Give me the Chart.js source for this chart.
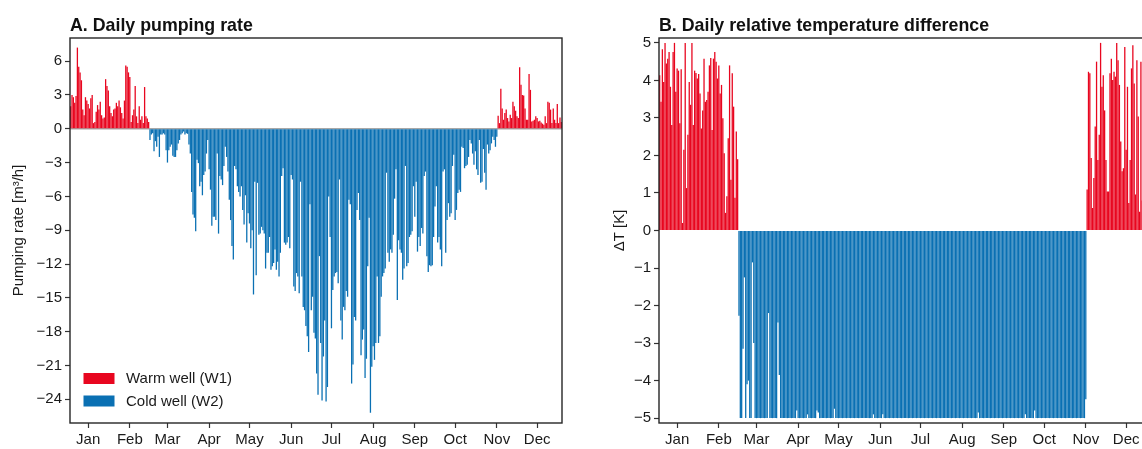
<!DOCTYPE html>
<html>
<head>
<meta charset="utf-8">
<script src="https://cdn.jsdelivr.net/npm/chart.js@4.4.0/dist/chart.umd.min.js"></script>
<style>
  html, body { margin: 0; padding: 0; background: #fff; overflow: hidden; }
  body { width: 1142px; height: 449px; position: relative; }
  #wrapA { position: absolute; left: 0; top: 0; width: 570px; height: 449px; }
  #wrapB { position: absolute; left: 570px; top: 0; width: 590px; height: 449px; }
</style>
</head>
<body>
<div id="wrapA"><canvas id="chartA" width="570" height="449"></canvas></div>
<div id="wrapB"><canvas id="chartB" width="590" height="449"></canvas></div>
<script>
// days shown on the x axis: 19 Dec .. 19 Dec (366 days)
const startDate = [2018, 11, 19];
const nDays = 366;
const monthNames = ['Jan','Feb','Mar','Apr','May','Jun','Jul','Aug','Sep','Oct','Nov','Dec'];

// A. pumping rate [m3/h]
const warmA1 = [2.0, 3.0, 2.8, 2.3, 2.9, 7.2, 5.5, 5.0, 4.3, 1.7,
  1.2, 2.8, 2.5, 2.2, 1.8, 2.7, 3.0, 0.5, 0.6, 1.5,
  2.1, 1.7, 2.4, 1.2, 0.9, 1.0, 4.4, 3.8, 3.4, 2.0,
  1.4, 1.1, 1.7, 1.8, 2.3, 2.0, 2.5, 1.9, 1.4, 0.9,
  2.5, 5.6, 5.5, 5.0, 4.6, 0.6, 1.2, 1.7, 3.8, 1.1,
  0.5, 2.0, 0.8, 1.1, 0.5, 3.7, 1.1, 0.9, 0.6];
const coldA = [-1.0, -0.5, -0.4, -2.0, -1.1, -1.6, -0.7, -2.5, -0.5, -0.5,
  -0.4, -0.5, -1.9, -3.0, -1.9, -1.6, -1.4, -2.4, -2.5, -2.5,
  -1.9, -1.3, -1.0, -0.5, -0.4, -0.25, -0.5, -0.4, -0.45, -1.4,
  -2.2, -5.6, -7.6, -7.9, -9.1, -2.75, -3.05, -5.1, -4.7, -5.9,
  -4.1, -3.8, -2.2, -1.0, -3.6, -5.4, -8.6, -7.8, -7.8, -8.1,
  -2.2, -9.3, -4.2, -4.5, -5.0, -3.3, -1.6, -2.5, -3.8, -6.3,
  -8.1, -10.4, -11.6, -3.3, -3.6, -5.1, -5.6, -6.0, -5.1, -7.2,
  -8.5, -5.9, -10.1, -7.5, -8.4, -10.6, -9.0, -14.7, -4.7, -13.0,
  -4.8, -9.4, -9.3, -8.7, -9.0, -9.3, -12.4, -11.0, -11.0, -9.6,
  -12.5, -12.2, -11.9, -10.7, -12.5, -11.8, -13.1, -11.0, -4.2, -3.5,
  -10.1, -10.3, -10.1, -9.6, -10.6, -4.1, -4.5, -14.0, -14.4, -12.8,
  -13.1, -14.6, -4.7, -13.1, -15.8, -16.1, -17.5, -18.4, -19.8, -6.7,
  -16.1, -14.9, -18.1, -18.6, -21.7, -23.6, -11.3, -19.0, -24.1, -20.2,
  -17.0, -24.2, -22.9, -6.0, -9.6, -17.7, -14.3, -13.1, -12.8, -12.7,
  -13.7, -4.5, -17.0, -18.7, -15.8, -16.1, -14.4, -14.9, -6.3, -6.7,
  -22.6, -20.9, -16.7, -17.0, -7.2, -5.7, -8.1, -20.1, -18.7, -17.8,
  -22.1, -20.4, -12.2, -7.9, -25.2, -21.1, -19.3, -20.5, -19.0, -13.1,
  -19.0, -18.4, -14.9, -13.1, -12.8, -12.4, -3.9, -11.0, -11.8, -10.7,
  -11.0, -9.4, -6.2, -3.6, -15.2, -9.9, -10.7, -11.0, -13.4, -12.4,
  -3.3, -12.2, -11.9, -9.6, -9.4, -9.1, -5.1, -7.8, -4.7, -10.9,
  -9.6, -10.4, -8.8, -9.3, -4.2, -3.8, -11.3, -12.7, -12.1, -12.2,
  -12.1, -9.6, -6.9, -5.1, -10.1, -9.6, -10.7, -12.2, -3.8, -3.6,
  -11.0, -8.1, -6.6, -7.8, -7.5, -3.3, -2.3, -8.1, -7.2, -5.7,
  -5.4, -5.6, -1.6, -1.7, -3.5, -3.3, -3.2, -2.5, -1.0, -1.3,
  -2.2, -3.2, -2.0, -3.6, -4.1, -1.0, -4.8, -4.7, -1.8, -3.9,
  -5.4, -1.4, -2.2, -1.9, -1.3, -0.7, -1.0, -1.6, -0.7];
const warmA2 = [1.15, 0.5, 3.55, 1.8, 0.8, 1.4, 1.7, 0.95, 0.65, 1.25,
  0.95, 2.4, 2.0, 1.6, 1.1, 0.95, 5.45, 3.9, 3.0, 2.95,
  1.8, 0.8, 0.8, 4.85, 3.45, 0.65, 0.7, 0.8, 1.1, 0.95,
  0.65, 0.7, 0.55, 0.45, 0.35, 1.1, 0.5, 2.4, 2.3, 1.7,
  0.5, 1.8, 0.8, 0.5, 2.2, 0.5, 1.0, 0.6];
const yTicksA = [6, 3, 0, -3, -6, -9, -12, -15, -18, -21, -24];

// B. relative temperature difference [K]
const warmB1 = [4.14, 3.43, 4.83, 3.96, 5.0, 4.45, 4.58, 4.76, 3.83, 2.81,
  4.76, 5.0, 3.70, 4.32, 4.26, 2.86, 4.3, 0.2, 2.15, 5.0,
  1.13, 2.55, 3.96, 3.35, 5.0, 2.81, 4.26, 4.2, 4.05, 4.17,
  3.65, 2.72, 3.2, 4.58, 3.43, 3.48, 3.7, 4.4, 4.6, 2.68,
  4.58, 4.76, 4.5, 4.05, 4.4, 3.65, 3.88, 2.99, 2.06, 0.47,
  0.91, 2.46, 4.4, 1.35, 4.19, 3.3, 0.87, 2.64, 1.9];
const coldB = [-2.27, -5, -5, -3.15, -1.25, -5, -4.1, -4.0, -5, -5, -0.85, -3.0, -5, -5, -5, -5, -5, -5, -5, -5,
  -5, -5, -2.2, -5, -5, -5, -5, -5, -5, -2.45, -3.85, -5, -5, -5, -5, -5, -5, -5, -5, -5,
  -5, -5, -5, -4.8, -5, -5, -5, -5, -5, -5, -5, -4.9, -5, -5, -5, -5, -5, -5, -4.8, -4.85,
  -5, -5, -5, -5, -5, -5, -5, -5, -5, -5, -5, -4.75, -5, -5, -5, -5, -5, -5, -5, -5,
  -5, -5, -5, -5, -5, -5, -5, -5, -5, -5, -5, -5, -5, -5, -5, -5, -5, -5, -5, -5,
  -4.9, -5, -5, -5, -5, -5, -5, -4.9, -5, -5, -5, -5, -5, -5, -5, -5, -5, -5, -5, -5,
  -5, -5, -5, -5, -5, -5, -5, -5, -5, -5, -5, -5, -5, -5, -5, -5, -5, -5, -5, -5,
  -5, -5, -5, -5, -5, -5, -5, -5, -5, -5, -5, -5, -5, -5, -5, -5, -5, -5, -5, -5,
  -5, -5, -5, -5, -5, -5, -5, -5, -5, -5, -5, -5, -5, -5, -5, -5, -5, -5, -4.85, -5,
  -5, -5, -5, -5, -5, -5, -5, -5, -5, -5, -5, -5, -5, -5, -5, -5, -5, -5, -5, -5,
  -5, -5, -5, -5, -5, -5, -5, -5, -5, -5, -5, -5, -5, -4.9, -5, -5, -5, -5, -5, -5,
  -4.8, -5, -5, -5, -5, -5, -5, -5, -5, -5, -5, -5, -5, -5, -5, -5, -5, -5, -5, -5,
  -5, -5, -5, -5, -5, -5, -5, -5, -5, -5, -5, -5, -5, -5, -5, -5, -5, -5, -4.5];
const warmB2 = [1.09, 4.23, 4.19, 1.93, 0.6, 1.4, 2.77, 4.5, 1.88, 2.55,
  5.0, 3.83, 4.14, 3.2, 1.88, 1.04, 1.04, 4.19, 4.58, 4.01,
  4.23, 4.1, 5.0, 4.54, 3.88, 2.37, 1.58, 1.66, 4.89, 2.15,
  3.83, 0.73, 1.88, 4.32, 4.94, 3.92, 0.96, 4.54, 3.04, 0.5,
  4.5, 0.8, 3.6, 4.8, 2.2, 4.1, 1.5, 3.9];
const yTicksB = [5, 4, 3, 2, 1, 0, -1, -2, -3, -4, -5];

const RED = '#e8061f';
const BLUE = '#0a70b3';
const FONT = '"Liberation Sans", Arial, Helvetica, sans-serif';
Chart.defaults.font.family = FONT;
Chart.defaults.color = '#1a1a1a';

const days = [];
for (let i = 0; i < nDays; i++) {
  days.push(new Date(Date.UTC(startDate[0], startDate[1], startDate[2] + i)));
}
const labels = days.map(d => d.toISOString().slice(0, 10));

function split(first, middle, last) {
  const warm = first.concat(middle.map(() => null), last);
  const cold = first.map(() => null).concat(middle, last.map(() => null));
  return { warm, cold };
}

function fmt(v) {
  return v < 0 ? '\u2212' + Math.abs(v) : String(v);
}

function panelPlugin(title, zeroLine, legend) {
  return {
    id: 'panel',
    beforeDatasetsDraw(chart) {
      if (!zeroLine) return;
      const a = chart.chartArea, y0 = chart.scales.y.getPixelForValue(0);
      const c = chart.ctx;
      c.save();
      c.strokeStyle = '#a8a8a8';
      c.lineWidth = 1.5;
      c.beginPath(); c.moveTo(a.left, y0); c.lineTo(a.right, y0); c.stroke();
      c.restore();
    },
    afterDraw(chart) {
      const a = chart.chartArea, c = chart.ctx;
      c.save();
      c.strokeStyle = '#262626';
      c.lineWidth = 1.4;
      c.strokeRect(a.left, a.top, a.right - a.left, a.bottom - a.top);
      c.fillStyle = '#111';
      c.font = 'bold 17.8px ' + FONT;
      c.textBaseline = 'alphabetic';
      c.fillText(title, a.left, 31);
      if (legend) {
        c.font = '15px ' + FONT;
        c.textBaseline = 'middle';
        chart.data.datasets.forEach((ds, i) => {
          const y = a.bottom - 50 + i * 22.5;
          c.fillStyle = ds.backgroundColor;
          c.fillRect(a.left + 13.5, y, 31, 11);
          c.fillStyle = '#1a1a1a';
          c.fillText(ds.label, a.left + 56, y + 6);
        });
      }
      c.restore();
    }
  };
}

function makeChart(id, series, opt) {
  return new Chart(document.getElementById(id), {
    type: 'bar',
    data: {
      labels: labels,
      datasets: [
        { label: 'Warm well (W1)', data: series.warm, backgroundColor: RED, grouped: false,
          categoryPercentage: 1, barPercentage: 0.96, borderWidth: 0 },
        { label: 'Cold well (W2)', data: series.cold, backgroundColor: BLUE, grouped: false,
          categoryPercentage: 1, barPercentage: 0.96, borderWidth: 0 }
      ]
    },
    options: {
      responsive: false,
      animation: false,
      devicePixelRatio: 1,
      layout: { padding: opt.padding },
      plugins: { legend: { display: false }, tooltip: { enabled: false }, title: { display: false } },
      scales: {
        x: {
          type: 'category',
          offset: true,
          border: { display: false },
          grid: { drawOnChartArea: false, drawTicks: true, tickLength: 5, tickColor: '#333', tickWidth: 1.2, offset: false },
          afterBuildTicks: s => { s.ticks = s.ticks.filter(t => days[t.value].getUTCDate() === 1); },
          ticks: { autoSkip: false, maxRotation: 0, padding: 3, color: '#1a1a1a', font: { size: 15 },
            callback: v => monthNames[days[v].getUTCMonth()] },
          afterFit: s => { s.height = 26; }
        },
        y: {
          min: opt.min, max: opt.max,
          border: { display: false },
          grid: { drawOnChartArea: false, tickLength: 5, tickColor: '#333', tickWidth: 1.2 },
          afterBuildTicks: s => { s.ticks = opt.ticks.map(v => ({ value: v })); },
          ticks: { padding: 3, color: '#1a1a1a', font: { size: 15 }, callback: v => fmt(v) },
          title: { display: true, text: opt.yTitle, font: { size: 15 }, color: '#1a1a1a', padding: { top: 4, bottom: 0 } },
          afterFit: s => { s.width = opt.yWidth; }
        }
      }
    },
    plugins: [panelPlugin(opt.title, opt.zeroLine, opt.legend)]
  });
}

makeChart('chartA', split(warmA1, coldA, warmA2), {
  title: 'A. Daily pumping rate', yTitle: 'Pumping rate [m\u00b3/h]',
  min: -26.1, max: 8.05, ticks: yTicksA,
  padding: { left: 6, top: 38, right: 8, bottom: 0 }, yWidth: 64,
  zeroLine: true, legend: true
});

makeChart('chartB', split(warmB1, coldB, warmB2), {
  title: 'B. Daily relative temperature difference', yTitle: '\u0394T [K]',
  min: -5.13, max: 5.13, ticks: yTicksB,
  padding: { left: 37, top: 38, right: 9, bottom: 0 }, yWidth: 52,
  zeroLine: false, legend: false
});
</script>
</body>
</html>
